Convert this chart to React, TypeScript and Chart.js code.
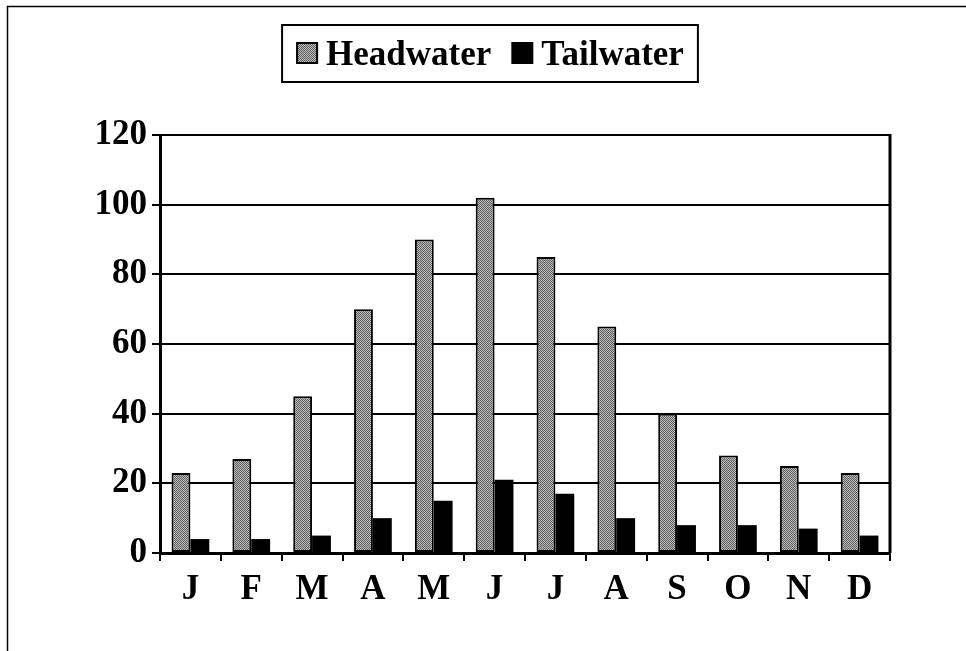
import React, { useEffect, useRef } from "react";
import { Chart, registerables } from "chart.js";

Chart.register(...registerables);

const months = ["J", "F", "M", "A", "M", "J", "J", "A", "S", "O", "N", "D"];
const headwater = [23, 27, 45, 70, 90, 102, 85, 65, 40, 28, 25, 23];
const tailwater = [4, 4, 5, 10, 15, 21, 17, 10, 8, 8, 7, 5];
const seriesNames = ["Headwater", "Tailwater"];
const yTicks = { min: 0, max: 120, step: 20 };

const FONT = '"Liberation Serif", "Times New Roman", serif';

function makePattern(): CanvasPattern | string {
  const c = document.createElement("canvas");
  c.width = 2;
  c.height = 2;
  const g = c.getContext("2d");
  if (!g) return "#8c8c8c";
  g.fillStyle = "#b8b8b8";
  g.fillRect(0, 0, 2, 2);
  g.fillStyle = "#626262";
  g.fillRect(0, 0, 1, 1);
  g.fillRect(1, 1, 1, 1);
  const p = g.createPattern(c, "repeat");
  return p || "#8c8c8c";
}

export default function App() {
  const ref = useRef<HTMLCanvasElement>(null);

  useEffect(() => {
    if (!ref.current) return;
    const pattern = makePattern();

    const framePlugin = {
      id: "frame",
      beforeDraw(chart: any) {
        const ctx = chart.ctx;
        ctx.save();
        ctx.fillStyle = "#ffffff";
        ctx.fillRect(0, 0, chart.width, chart.height);
        ctx.strokeStyle = "#000";
        ctx.lineWidth = 1.5;
        ctx.strokeRect(7.5, 6.5, 1200, 1200);
        ctx.restore();
      },
      afterDraw(chart: any) {
        const ctx = chart.ctx;
        const a = chart.chartArea;
        ctx.save();
        ctx.strokeStyle = "#000";
        ctx.lineWidth = 3;
        ctx.beginPath();
        ctx.moveTo(a.right, a.top - 1);
        ctx.lineTo(a.right, a.bottom);
        ctx.stroke();

        // legend
        const items = chart.data.datasets.map((ds: any) => ({
          label: ds.label,
          fill: ds.backgroundColor,
          border: ds.borderWidth,
        }));
        ctx.font = `bold 35px ${FONT}`;
        const sw = 22;
        const gapS = 8;
        const gapItem = 20;
        const padX = 14;
        const widths = items.map((it: any) => sw + gapS + ctx.measureText(it.label).width);
        const total = widths.reduce((s: number, w: number) => s + w, 0) + gapItem * (items.length - 1);
        const boxW = total + padX * 2;
        const cx = 490;
        const left = cx - boxW / 2;
        const top = 25;
        const bottom = 82;
        ctx.lineWidth = 2;
        ctx.strokeRect(left, top, boxW, bottom - top);
        let x = left + padX;
        items.forEach((it: any, i: number) => {
          ctx.fillStyle = it.fill;
          ctx.fillRect(x, 42, sw, sw);
          if (it.border) {
            ctx.lineWidth = 2;
            ctx.strokeStyle = "#000";
            ctx.strokeRect(x + 1, 43, sw - 2, sw - 2);
          }
          ctx.fillStyle = "#000";
          ctx.textBaseline = "alphabetic";
          ctx.textAlign = "left";
          ctx.fillText(it.label, x + sw + gapS, 65);
          x += widths[i] + gapItem;
        });
        ctx.restore();
      },
    };

    const chart = new Chart(ref.current, {
      type: "bar",
      data: {
        labels: months,
        datasets: [
          {
            label: seriesNames[0],
            data: headwater,
            backgroundColor: pattern as any,
            borderColor: "#000",
            borderWidth: 2,
            borderSkipped: false,
            barPercentage: 1,
            categoryPercentage: 0.62,
          },
          {
            label: seriesNames[1],
            data: tailwater,
            backgroundColor: "#000",
            borderWidth: 0,
            barPercentage: 1,
            categoryPercentage: 0.62,
          },
        ],
      },
      options: {
        animation: false,
        responsive: false,
        layout: { padding: { top: 135, right: 76, left: 0, bottom: 0 } },
        plugins: {
          legend: { display: false },
          tooltip: { enabled: false },
          title: { display: false },
        },
        scales: {
          x: {
            afterFit(scale: any) {
              scale.height = 98;
            },
            grid: {
              offset: true,
              drawOnChartArea: false,
              drawTicks: true,
              tickLength: 8,
              color: "#000",
              lineWidth: 2,
            },
            border: { display: true, color: "#000", width: 3 },
            ticks: {
              color: "#000",
              padding: 8,
              font: { family: FONT, size: 35, weight: "bold" },
            },
          },
          y: {
            min: yTicks.min,
            max: yTicks.max,
            afterFit(scale: any) {
              scale.width = 160;
            },
            grid: {
              color: "#000",
              lineWidth: 2,
              tickLength: 8,
              drawTicks: true,
            },
            border: { display: true, color: "#000", width: 3 },
            ticks: {
              stepSize: yTicks.step,
              color: "#000",
              padding: 5,
              font: { family: FONT, size: 35, weight: "bold" },
            },
          },
        },
      },
      plugins: [framePlugin],
    });
    return () => chart.destroy();
  }, []);

  return (
    <div style={{ position: "absolute", left: 0, top: 0, width: 966, height: 651, overflow: "hidden" }}>
      <canvas ref={ref} width={966} height={651} style={{ display: "block" }} />
    </div>
  );
}
